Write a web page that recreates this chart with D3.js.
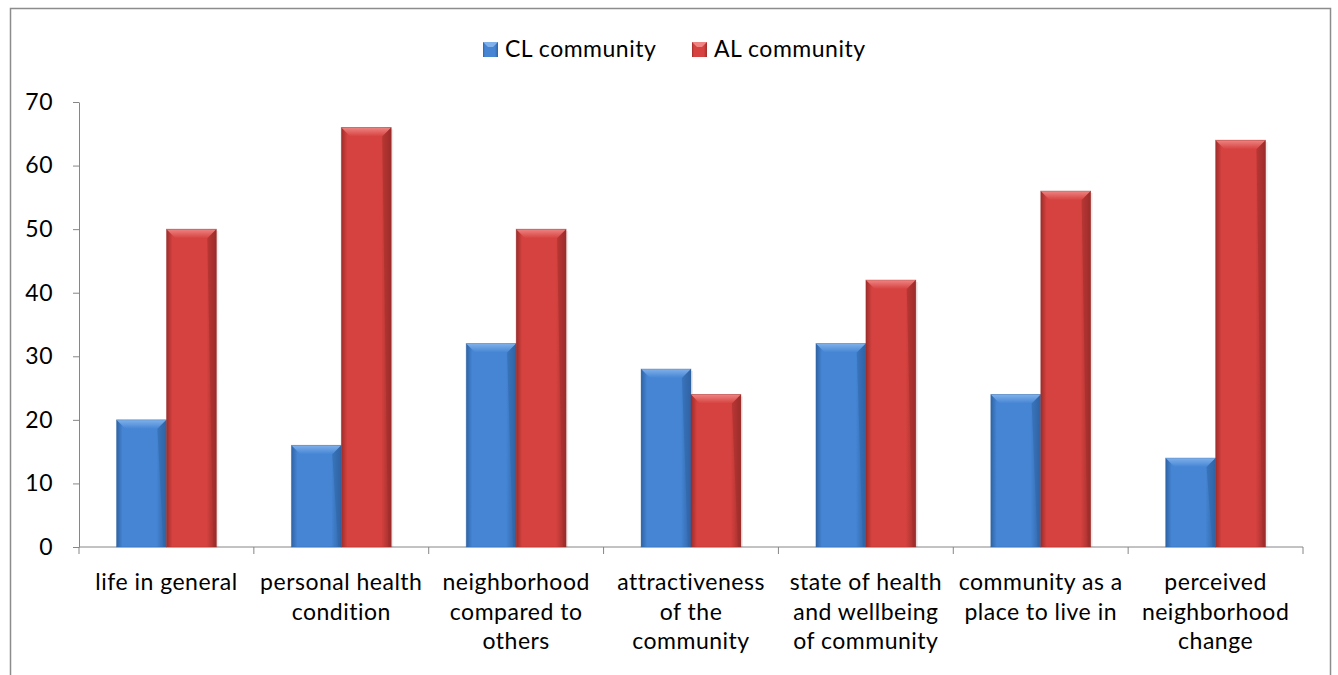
<!DOCTYPE html>
<html>
<head>
<meta charset="utf-8">
<script src="https://cdn.jsdelivr.net/npm/d3@7"></script>
<style>
  body { margin: 0; background: #fff; }
  svg { display: block; font-family: Lato, "Open Sans", sans-serif; }
</style>
</head>
<body>
<div id="chart"></div>
<script>
const categories = [
  ['life in general'],
  ['personal health', 'condition'],
  ['neighborhood', 'compared to', 'others'],
  ['attractiveness', 'of the', 'community'],
  ['state of health', 'and wellbeing', 'of community'],
  ['community as a', 'place to live in'],
  ['perceived', 'neighborhood', 'change']
]
const seriesNames = ['CL community', 'AL community']
const clValues = [20, 16, 32, 28, 32, 24, 14]
const alValues = [50, 66, 50, 24, 42, 56, 64]
const yTicks = [0, 10, 20, 30, 40, 50, 60, 70]

const W = 1338, H = 675
const fontSize = 23
const svg = d3.select('#chart').append('svg').attr('width', W).attr('height', H)

// gradients to fake the excel bevel look
const defs = svg.append('defs')
const palettes = [
  {id: 'cl', dark: '#2f63a3', mid: '#4585d4', light: '#80b1ea'},
  {id: 'al', dark: '#9c2d2b', mid: '#d6423f', light: '#ee8583'}
]
palettes.forEach(p => {
  const g = defs.append('linearGradient').attr('id', 'body-' + p.id).attr('x1', 0).attr('x2', 1).attr('y1', 0).attr('y2', 0)
  g.append('stop').attr('offset', '0%').attr('stop-color', p.dark)
  g.append('stop').attr('offset', '12%').attr('stop-color', p.mid)
  g.append('stop').attr('offset', '80%').attr('stop-color', p.mid)
  g.append('stop').attr('offset', '100%').attr('stop-color', p.dark)
  const t = defs.append('linearGradient').attr('id', 'top-' + p.id).attr('x1', 0).attr('x2', 0).attr('y1', 0).attr('y2', 1)
  t.append('stop').attr('offset', '0%').attr('stop-color', p.light)
  t.append('stop').attr('offset', '100%').attr('stop-color', p.mid)
})

// outer frame
svg.append('rect').attr('x', 10.5).attr('y', 8.5).attr('width', 1320).attr('height', 700)
  .attr('fill', 'none').attr('stroke', '#8c8c8c').attr('stroke-width', 1.5)

const margin = {left: 79, right: 35, top: 102, bottom: 128}
const x = d3.scaleBand().domain(d3.range(categories.length)).range([margin.left, W - margin.right])
const xs = d3.scaleBand().domain([0, 1]).range([0, x.bandwidth()]).paddingOuter(0.75).paddingInner(0)
const y = d3.scaleLinear().domain([0, 70]).range([H - margin.bottom, margin.top])

// y axis
const yAxis = svg.append('g').attr('transform', `translate(${margin.left},0)`)
  .call(d3.axisLeft(y).tickValues(yTicks).tickSize(6).tickSizeOuter(0).tickPadding(20))
yAxis.select('.domain').attr('stroke', '#868686')
yAxis.selectAll('.tick line').attr('stroke', '#868686')
yAxis.selectAll('.tick text').attr('font-size', fontSize).attr('fill', '#000')
  .attr('font-family', 'Lato, sans-serif').attr('letter-spacing', 0.5)

// x axis line + ticks on category boundaries
const xAxis = svg.append('g').attr('transform', `translate(0,${y(0)})`)
xAxis.append('line').attr('x1', margin.left).attr('x2', W - margin.right).attr('stroke', '#868686')
xAxis.selectAll('.xt').data(d3.range(categories.length + 1)).enter().append('line')
  .attr('x1', i => i < categories.length ? x(i) : x(i - 1) + x.bandwidth())
  .attr('x2', i => i < categories.length ? x(i) : x(i - 1) + x.bandwidth())
  .attr('y1', 0).attr('y2', 7).attr('stroke', '#868686')

const labels = svg.append('g').selectAll('text').data(categories).enter().append('text')
  .attr('text-anchor', 'middle').attr('font-size', fontSize).attr('fill', '#000').attr('letter-spacing', 0.5)
  .attr('transform', (d, i) => `translate(${x(i) + x.bandwidth() / 2},${y(0) + 43})`)
labels.selectAll('tspan').data(d => d).enter().append('tspan')
  .attr('x', 0).attr('y', (d, i) => i * 29.5).text(d => d)

// bars
const series = [clValues, alValues]
series.forEach((vals, s) => {
  const p = palettes[s]
  const g = svg.append('g')
  vals.forEach((v, i) => {
    const bx = x(i) + xs(s), bw = xs.bandwidth(), by = y(v), bh = y(0) - y(v)
    const bev = Math.min(9, bh / 2)
    g.append('rect').attr('x', bx + 2).attr('y', by + 2).attr('width', bw).attr('height', bh - 2)
      .attr('fill', '#000').attr('opacity', 0.08)
    g.append('rect').attr('x', bx).attr('y', by).attr('width', bw).attr('height', bh)
      .attr('fill', `url(#body-${p.id})`)
    g.append('path')
      .attr('d', `M${bx},${by}L${bx + bw},${by}L${bx + bw - bev},${by + bev}L${bx + bev},${by + bev}Z`)
      .attr('fill', `url(#top-${p.id})`)
    g.append('path')
      .attr('d', `M${bx + bw},${by}L${bx + bw},${by + bh}L${bx + bw - 3},${by + bh}L${bx + bw - bev},${by + bev}Z`)
      .attr('fill', p.dark).attr('opacity', 0.45)
    g.append('rect').attr('x', bx).attr('y', by).attr('width', bw).attr('height', bh)
      .attr('fill', 'none').attr('stroke', p.dark).attr('stroke-opacity', 0.4).attr('stroke-width', 0.8)
  })
})

// legend
const legend = svg.append('g').attr('transform', 'translate(483,42)')
const legX = [0, 209]
seriesNames.forEach((name, s) => {
  const p = palettes[s]
  const lg = legend.append('g').attr('transform', `translate(${legX[s]},0)`)
  lg.append('rect').attr('width', 15).attr('height', 15).attr('fill', `url(#body-${p.id})`)
  lg.append('path').attr('d', 'M0,0L15,0L10,5L5,5Z').attr('fill', p.light)
  lg.append('text').attr('x', 22).attr('y', 15).attr('font-size', fontSize).attr('fill', '#000')
    .attr('letter-spacing', 0.5).text(name)
})
</script>
</body>
</html>
